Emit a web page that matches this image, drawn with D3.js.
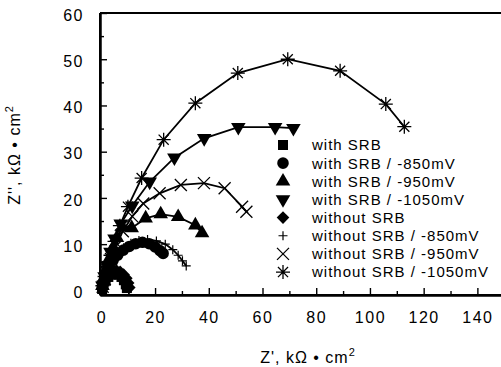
<!DOCTYPE html>
<html>
<head>
<meta charset="utf-8">
<script src="https://cdn.jsdelivr.net/npm/d3@7"></script>
<style>
  html, body { margin: 0; padding: 0; background: #fff; }
  svg { display: block; font-family: Arial, "Liberation Sans", Helvetica, sans-serif; }
</style>
</head>
<body>
<svg id="chart" width="501" height="367"></svg>
<script>
// Nyquist plots: Z' (real) vs Z'' (imaginary), kΩ·cm²
const xTickValues = [0, 20, 40, 60, 80, 100, 120, 140];
const xMinorValues = [10, 30, 50, 70, 90, 110, 130, 150];
const yTickValues = [0, 10, 20, 30, 40, 50, 60];
const yMinorValues = [5, 15, 25, 35, 45, 55];

const legendLabels = [
  "with SRB",
  "with SRB / -850mV",
  "with SRB / -950mV",
  "with SRB / -1050mV",
  "without SRB",
  "without SRB / -850mV",
  "without SRB / -950mV",
  "without SRB / -1050mV"
];

// [Z', Z''] pairs for each condition
const withSRB = [[0.3,0.3],[0.8,1.2],[1.6,2.1],[2.6,2.9],[3.8,3.4],[5.1,3.6],[6.4,3.4],[7.5,2.9],[8.4,2.2],[9.1,1.3],[9.5,0.5]];
const withSRB850 = [[0.4,0.8],[1.0,2.0],[1.9,3.5],[3.0,5.0],[4.4,6.5],[6.1,7.6],[8.2,8.7],[10.4,9.5],[12.8,10.1],[15.3,10.4],[17.8,10.1],[20.0,9.4],[21.8,8.6],[23.0,8.0]];
const withSRB950 = [[0.4,1.0],[1.1,2.8],[2.0,4.8],[3.1,7.0],[4.3,9.2],[5.8,11.4],[7.9,13.6],[11.3,13.5],[16.5,15.6],[22.1,16.5],[28.6,15.9],[35.0,14.1],[37.5,12.4]];
const withSRB1050 = [[0.4,1.0],[1.2,3.0],[2.2,5.4],[3.4,8.3],[4.9,11.2],[7.2,14.4],[11.5,18.3],[18.0,23.5],[27.2,28.7],[38.3,32.9],[51.0,35.3],[64.7,35.3],[71.5,35.1]];
const withoutSRB = [[0.3,0.4],[0.9,1.5],[1.8,2.6],[2.9,3.5],[4.2,4.1],[5.6,4.3],[7.0,4.0],[8.3,3.4],[9.3,2.6],[10.0,1.6],[10.4,0.6]];
const withoutSRB850 = [[0.5,1.3],[1.4,2.9],[2.6,4.7],[4.1,6.4],[6.0,7.9],[8.3,9.2],[11.0,10.2],[14.0,10.8],[17.2,11.0],[20.5,10.7],[23.8,10.0],[26.6,8.8],[28.6,7.6],[30.2,6.4],[31.6,5.3]];
const withoutSRB950 = [[0.5,0.8],[1.3,2.4],[2.3,4.4],[3.6,6.8],[5.5,9.6],[8.0,12.8],[11.5,16.0],[15.6,18.8],[21.7,21.0],[29.6,22.8],[38.2,23.2],[45.9,22.1],[52.4,18.1],[54.0,17.0]];
const withoutSRB1050 = [[0.4,1.0],[1.2,3.0],[2.2,5.2],[3.4,7.6],[4.9,10.6],[6.9,14.0],[9.9,18.1],[15.0,24.3],[23.2,32.6],[35.0,40.5],[50.8,47.0],[69.4,50.0],[88.9,47.5],[105.9,40.3],[112.8,35.4]];

const seriesData = [withSRB, withSRB850, withSRB950, withSRB1050, withoutSRB, withoutSRB850, withoutSRB950, withoutSRB1050];
const seriesMarkers = ["square", "circle", "triUp", "triDown", "diamond", "plus", "cross", "star"];

const svg = d3.select("#chart");
const W = 501, H = 367;
svg.append("rect").attr("width", W).attr("height", H).attr("fill", "#fff");

const plotLeft = 100, plotTop = 13, plotBottom = 295;
const x = d3.scaleLinear().domain([-0.5, 160]).range([plotLeft, plotLeft + 160.5 * 2.686]);
const y = d3.scaleLinear().domain([-1, 60]).range([plotBottom, plotTop]);

// marker path builders
function markerPath(kind) {
  switch (kind) {
    case "square": return d3.symbol(d3.symbolSquare, 100)();
    case "circle": return d3.symbol(d3.symbolCircle, 105)();
    case "triUp": return d3.symbol(d3.symbolTriangle, 92)();
    case "triDown": return d3.symbol(d3.symbolTriangle, 92)();
    case "diamond": return d3.symbol(d3.symbolSquare, 80)();
    case "plus": { const r = 4.5; return `M${-r},0H${r}M0,${-r}V${r}`; }
    case "cross": { const r = 6; return `M${-r},${-r}L${r},${r}M${-r},${r}L${r},${-r}`; }
    case "star": {
      const r = 7, d = r * 0.72;
      return `M${-r},0H${r}M0,${-r}V${r}M${-d},${-d}L${d},${d}M${-d},${d}L${d},${-d}`;
    }
  }
}
function markerRotate(kind) {
  if (kind === "triDown") return 180;
  if (kind === "diamond") return 45;
  return 0;
}
function isStroked(kind) { return kind === "plus" || kind === "cross" || kind === "star"; }

function drawMarker(g, kind, cx, cy) {
  const p = g.append("path")
    .attr("d", markerPath(kind))
    .attr("transform", `translate(${cx},${cy}) rotate(${markerRotate(kind)})`);
  if (isStroked(kind)) {
    p.attr("fill", "none").attr("stroke", "#000").attr("stroke-width", kind === "plus" ? 1.2 : 1.3);
  } else {
    p.attr("fill", "#000");
  }
}

// axes
const axisStyle = g => {
  g.selectAll("path.domain").attr("stroke", "#000").attr("stroke-width", 2);
  g.selectAll(".tick line").attr("stroke", "#000").attr("stroke-width", 1.4);
  g.selectAll(".tick text").attr("fill", "#000").attr("font-size", 16).attr("letter-spacing", 1.5)
    .attr("font-family", "Arial, 'Liberation Sans', sans-serif");
};

svg.append("g").attr("transform", `translate(0,${plotBottom})`)
  .call(d3.axisBottom(x).tickValues(xMinorValues).tickSize(-4).tickSizeOuter(0).tickFormat(""))
  .call(axisStyle);
svg.append("g").attr("transform", `translate(${plotLeft},0)`)
  .call(d3.axisLeft(y).tickValues(yMinorValues).tickSize(-4).tickSizeOuter(0).tickFormat(""))
  .call(axisStyle);

svg.append("g").attr("transform", `translate(0,${plotBottom})`)
  .call(d3.axisBottom(x).tickValues(xTickValues).tickSize(-7).tickSizeOuter(0).tickPadding(17))
  .call(axisStyle);
const yAxisG = svg.append("g").attr("transform", `translate(${plotLeft},0)`)
  .call(d3.axisLeft(y).tickValues(yTickValues).tickSize(-7).tickSizeOuter(0).tickPadding(16))
  .call(axisStyle);
yAxisG.selectAll(".tick text").attr("dy", "0.45em");

// full-span axis lines and top frame
svg.append("line").attr("x1", plotLeft).attr("x2", W).attr("y1", plotBottom).attr("y2", plotBottom)
  .attr("stroke", "#000").attr("stroke-width", 2);
svg.append("line").attr("x1", plotLeft).attr("x2", plotLeft).attr("y1", plotTop).attr("y2", plotBottom)
  .attr("stroke", "#000").attr("stroke-width", 2);
svg.append("line").attr("x1", plotLeft).attr("x2", W).attr("y1", plotTop).attr("y2", plotTop)
  .attr("stroke", "#000").attr("stroke-width", 2);

// axis titles
const xTitle = svg.append("text").attr("x", 308).attr("y", 363)
  .attr("text-anchor", "middle").attr("font-size", 16).attr("letter-spacing", 1);
xTitle.append("tspan").text("Z', kΩ • cm");
xTitle.append("tspan").attr("font-size", 11).attr("dy", -7).text("2");

const yTitle = svg.append("text")
  .attr("transform", "translate(20,155) rotate(-90)")
  .attr("text-anchor", "middle").attr("font-size", 16).attr("letter-spacing", 1);
yTitle.append("tspan").text("Z'', kΩ • cm");
yTitle.append("tspan").attr("font-size", 11).attr("dy", -7).text("2");

// series lines and markers
const line = d3.line().x(d => x(d[0])).y(d => y(d[1]));
const plotG = svg.append("g");
seriesData.forEach((data) => {
  plotG.append("path").datum(data).attr("d", line)
    .attr("fill", "none").attr("stroke", "#000").attr("stroke-width", 1.8);
});
seriesData.forEach((data, i) => {
  const g = plotG.append("g");
  data.forEach(d => drawMarker(g, seriesMarkers[i], x(d[0]), y(d[1])));
});

// legend
const legendG = svg.append("g");
legendLabels.forEach((label, i) => {
  const cy = 145 + i * 18.15;
  drawMarker(legendG, seriesMarkers[i], 283, cy);
  legendG.append("text").attr("x", 312).attr("y", cy).attr("dy", "0.36em")
    .attr("font-size", 15).attr("letter-spacing", 1).attr("fill", "#000").text(label);
});
</script>
</body>
</html>
